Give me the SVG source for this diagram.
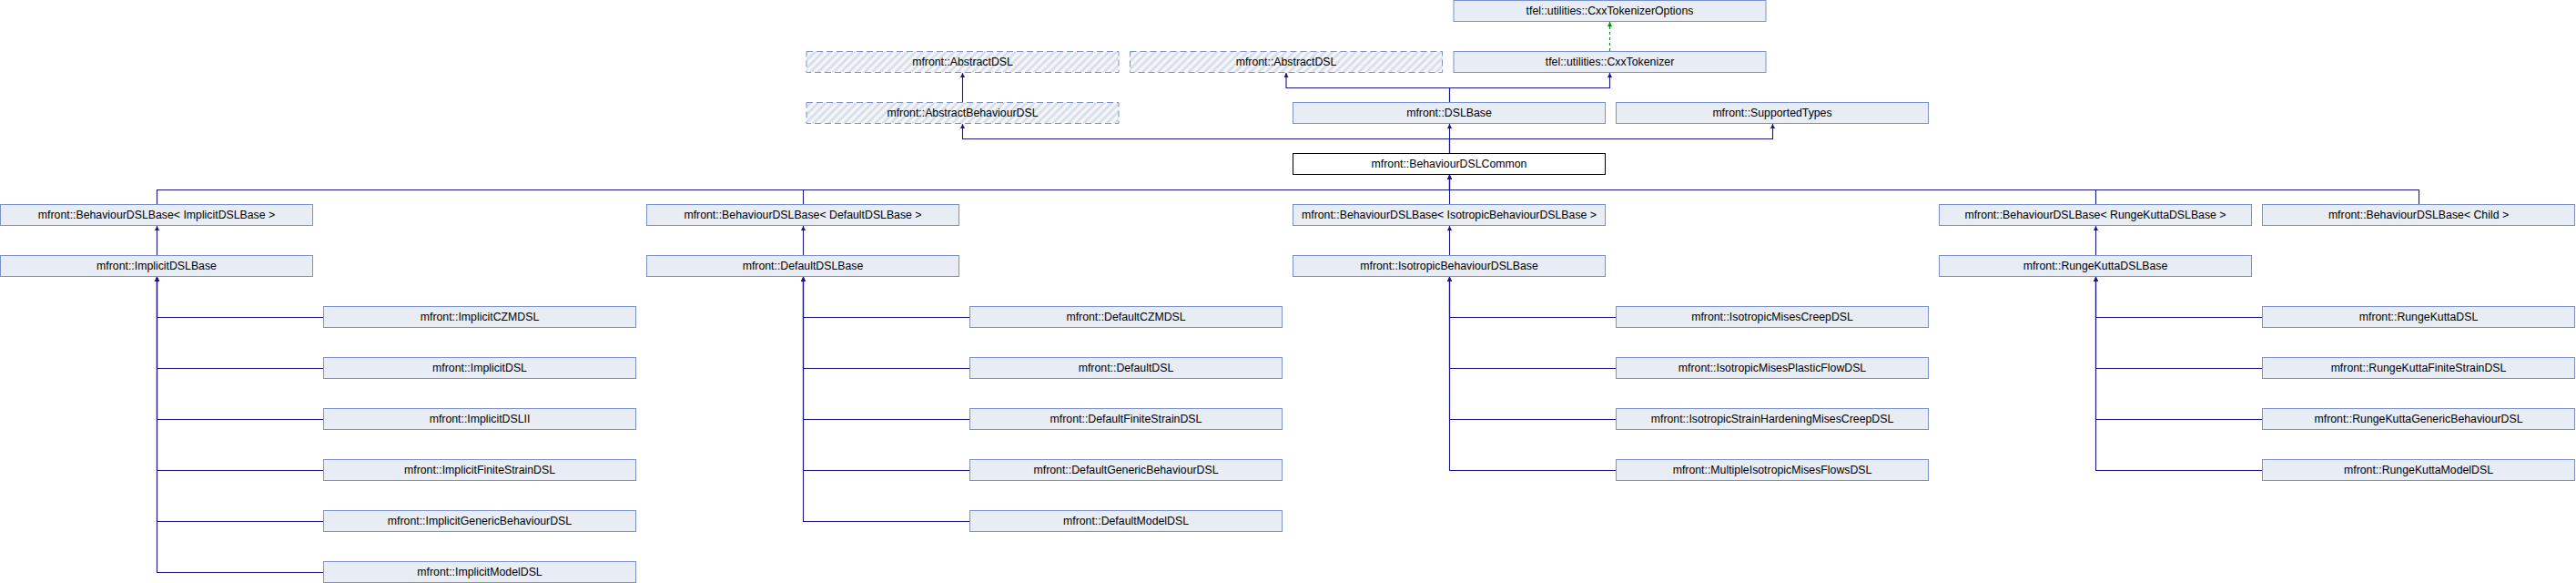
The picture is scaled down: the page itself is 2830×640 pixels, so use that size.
<svg xmlns="http://www.w3.org/2000/svg" width="2830" height="640" viewBox="0 0 2830 640">
<style>
.n{fill:#e8ecf5;stroke:#7b92c8;stroke-width:1}
.h{fill:url(#hatch);stroke:#7b92c8;stroke-width:1;stroke-dasharray:7,4}
.m{fill:#ffffff;stroke:#000000;stroke-width:1}
.t{font-family:"Liberation Sans",Arial,sans-serif;font-size:12.3px;fill:#000000;text-anchor:middle}
.e{fill:none;stroke:#191980;stroke-width:1.1;marker-end:url(#arr)}
.g{fill:none;stroke:#009000;stroke-width:1.1;stroke-dasharray:3,3;marker-end:url(#arrg)}
</style>
<defs>
<pattern id="hatch" patternUnits="userSpaceOnUse" width="6" height="6" patternTransform="rotate(45)">
<rect width="6" height="6" fill="#f4f6fa"/>
<line x1="1.5" y1="0" x2="1.5" y2="6" stroke="#d6dce8" stroke-width="2.5"/>
</pattern>
<marker id="arr" markerUnits="userSpaceOnUse" viewBox="0 0 10 10" refX="10" refY="5" markerWidth="7" markerHeight="5" orient="auto">
<path d="M0,0 L10,5 L0,10 z" fill="#191980"/>
</marker>
<marker id="arrg" markerUnits="userSpaceOnUse" viewBox="0 0 10 10" refX="10" refY="5" markerWidth="7" markerHeight="5" orient="auto">
<path d="M0,0 L10,5 L0,10 z" fill="#009000"/>
</marker>
</defs>
<rect width="2830" height="640" fill="#ffffff"/>

<g id="connectors">
<path class="g" d="M1768.5,56 V24"/>
<path class="e" d="M1057.5,112 V80"/>
<path class="e" d="M1592.5,112 V96.5 H1413 V80"/>
<path class="e" d="M1592.5,112 V96.5 H1768.5 V80"/>
<path class="e" d="M1592.5,168 V152.5 H1057.5 V136"/>
<path class="e" d="M1592.5,168 V136"/>
<path class="e" d="M1592.5,168 V152.5 H1947.5 V136"/>
<path class="e" d="M172.5,224 V208.5 H1592.5 V192"/>
<path class="e" d="M882.5,224 V208.5 H1592.5 V192"/>
<path class="e" d="M1592.5,224 V192"/>
<path class="e" d="M2302.5,224 V208.5 H1592.5 V192"/>
<path class="e" d="M2657.5,224 V208.5 H1592.5 V192"/>
<path class="e" d="M172.5,280 V248"/>
<path class="e" d="M882.5,280 V248"/>
<path class="e" d="M1592.5,280 V248"/>
<path class="e" d="M2302.5,280 V248"/>
<path class="e" d="M355.5,348.5 H172.5 V304"/>
<path class="e" d="M355.5,404.5 H172.5 V304"/>
<path class="e" d="M355.5,460.5 H172.5 V304"/>
<path class="e" d="M355.5,516.5 H172.5 V304"/>
<path class="e" d="M355.5,572.5 H172.5 V304"/>
<path class="e" d="M355.5,628.5 H172.5 V304"/>
<path class="e" d="M1065.5,348.5 H882.5 V304"/>
<path class="e" d="M1065.5,404.5 H882.5 V304"/>
<path class="e" d="M1065.5,460.5 H882.5 V304"/>
<path class="e" d="M1065.5,516.5 H882.5 V304"/>
<path class="e" d="M1065.5,572.5 H882.5 V304"/>
<path class="e" d="M1775.5,348.5 H1592.5 V304"/>
<path class="e" d="M1775.5,404.5 H1592.5 V304"/>
<path class="e" d="M1775.5,460.5 H1592.5 V304"/>
<path class="e" d="M1775.5,516.5 H1592.5 V304"/>
<path class="e" d="M2485.5,348.5 H2302.5 V304"/>
<path class="e" d="M2485.5,404.5 H2302.5 V304"/>
<path class="e" d="M2485.5,460.5 H2302.5 V304"/>
<path class="e" d="M2485.5,516.5 H2302.5 V304"/>
</g>

<g id="CxxTokenizerOptions"><rect class="n" x="1597" y="0.5" width="343" height="23"/><text class="t" x="1768.5" y="16">tfel::utilities::CxxTokenizerOptions</text></g>
<g id="AbstractDSL_1"><rect class="h" x="886" y="56.5" width="343" height="23"/><text class="t" x="1057.5" y="72">mfront::AbstractDSL</text></g>
<g id="AbstractDSL_2"><rect class="h" x="1241.5" y="56.5" width="343" height="23"/><text class="t" x="1413" y="72">mfront::AbstractDSL</text></g>
<g id="CxxTokenizer"><rect class="n" x="1597" y="56.5" width="343" height="23"/><text class="t" x="1768.5" y="72">tfel::utilities::CxxTokenizer</text></g>
<g id="AbstractBehaviourDSL"><rect class="h" x="886" y="112.5" width="343" height="23"/><text class="t" x="1057.5" y="128">mfront::AbstractBehaviourDSL</text></g>
<g id="DSLBase"><rect class="n" x="1420.5" y="112.5" width="343" height="23"/><text class="t" x="1592" y="128">mfront::DSLBase</text></g>
<g id="SupportedTypes"><rect class="n" x="1775.5" y="112.5" width="343" height="23"/><text class="t" x="1947" y="128">mfront::SupportedTypes</text></g>
<g id="BehaviourDSLCommon"><rect class="m" x="1420.5" y="168.5" width="343" height="23"/><text class="t" x="1592" y="184">mfront::BehaviourDSLCommon</text></g>

<g id="BDSLBase_Implicit"><rect class="n" x="0.5" y="224.5" width="343" height="23"/><text class="t" x="172" y="240">mfront::BehaviourDSLBase&lt; ImplicitDSLBase &gt;</text></g>
<g id="BDSLBase_Default"><rect class="n" x="710.5" y="224.5" width="343" height="23"/><text class="t" x="882" y="240">mfront::BehaviourDSLBase&lt; DefaultDSLBase &gt;</text></g>
<g id="BDSLBase_Isotropic"><rect class="n" x="1420.5" y="224.5" width="343" height="23"/><text class="t" x="1592" y="240">mfront::BehaviourDSLBase&lt; IsotropicBehaviourDSLBase &gt;</text></g>
<g id="BDSLBase_RungeKutta"><rect class="n" x="2130.5" y="224.5" width="343" height="23"/><text class="t" x="2302" y="240">mfront::BehaviourDSLBase&lt; RungeKuttaDSLBase &gt;</text></g>
<g id="BDSLBase_Child"><rect class="n" x="2485.5" y="224.5" width="343" height="23"/><text class="t" x="2657" y="240">mfront::BehaviourDSLBase&lt; Child &gt;</text></g>

<g id="ImplicitDSLBase"><rect class="n" x="0.5" y="280.5" width="343" height="23"/><text class="t" x="172" y="296">mfront::ImplicitDSLBase</text></g>
<g id="DefaultDSLBase"><rect class="n" x="710.5" y="280.5" width="343" height="23"/><text class="t" x="882" y="296">mfront::DefaultDSLBase</text></g>
<g id="IsotropicBehaviourDSLBase"><rect class="n" x="1420.5" y="280.5" width="343" height="23"/><text class="t" x="1592" y="296">mfront::IsotropicBehaviourDSLBase</text></g>
<g id="RungeKuttaDSLBase"><rect class="n" x="2130.5" y="280.5" width="343" height="23"/><text class="t" x="2302" y="296">mfront::RungeKuttaDSLBase</text></g>

<g id="ImplicitCZMDSL"><rect class="n" x="355.5" y="336.5" width="343" height="23"/><text class="t" x="527" y="352">mfront::ImplicitCZMDSL</text></g>
<g id="ImplicitDSL"><rect class="n" x="355.5" y="392.5" width="343" height="23"/><text class="t" x="527" y="408">mfront::ImplicitDSL</text></g>
<g id="ImplicitDSLII"><rect class="n" x="355.5" y="448.5" width="343" height="23"/><text class="t" x="527" y="464">mfront::ImplicitDSLII</text></g>
<g id="ImplicitFiniteStrainDSL"><rect class="n" x="355.5" y="504.5" width="343" height="23"/><text class="t" x="527" y="520">mfront::ImplicitFiniteStrainDSL</text></g>
<g id="ImplicitGenericBehaviourDSL"><rect class="n" x="355.5" y="560.5" width="343" height="23"/><text class="t" x="527" y="576">mfront::ImplicitGenericBehaviourDSL</text></g>
<g id="ImplicitModelDSL"><rect class="n" x="355.5" y="616.5" width="343" height="23"/><text class="t" x="527" y="632">mfront::ImplicitModelDSL</text></g>

<g id="DefaultCZMDSL"><rect class="n" x="1065.5" y="336.5" width="343" height="23"/><text class="t" x="1237" y="352">mfront::DefaultCZMDSL</text></g>
<g id="DefaultDSL"><rect class="n" x="1065.5" y="392.5" width="343" height="23"/><text class="t" x="1237" y="408">mfront::DefaultDSL</text></g>
<g id="DefaultFiniteStrainDSL"><rect class="n" x="1065.5" y="448.5" width="343" height="23"/><text class="t" x="1237" y="464">mfront::DefaultFiniteStrainDSL</text></g>
<g id="DefaultGenericBehaviourDSL"><rect class="n" x="1065.5" y="504.5" width="343" height="23"/><text class="t" x="1237" y="520">mfront::DefaultGenericBehaviourDSL</text></g>
<g id="DefaultModelDSL"><rect class="n" x="1065.5" y="560.5" width="343" height="23"/><text class="t" x="1237" y="576">mfront::DefaultModelDSL</text></g>

<g id="IsotropicMisesCreepDSL"><rect class="n" x="1775.5" y="336.5" width="343" height="23"/><text class="t" x="1947" y="352">mfront::IsotropicMisesCreepDSL</text></g>
<g id="IsotropicMisesPlasticFlowDSL"><rect class="n" x="1775.5" y="392.5" width="343" height="23"/><text class="t" x="1947" y="408">mfront::IsotropicMisesPlasticFlowDSL</text></g>
<g id="IsotropicStrainHardeningMisesCreepDSL"><rect class="n" x="1775.5" y="448.5" width="343" height="23"/><text class="t" x="1947" y="464">mfront::IsotropicStrainHardeningMisesCreepDSL</text></g>
<g id="MultipleIsotropicMisesFlowsDSL"><rect class="n" x="1775.5" y="504.5" width="343" height="23"/><text class="t" x="1947" y="520">mfront::MultipleIsotropicMisesFlowsDSL</text></g>

<g id="RungeKuttaDSL"><rect class="n" x="2485.5" y="336.5" width="343" height="23"/><text class="t" x="2657" y="352">mfront::RungeKuttaDSL</text></g>
<g id="RungeKuttaFiniteStrainDSL"><rect class="n" x="2485.5" y="392.5" width="343" height="23"/><text class="t" x="2657" y="408">mfront::RungeKuttaFiniteStrainDSL</text></g>
<g id="RungeKuttaGenericBehaviourDSL"><rect class="n" x="2485.5" y="448.5" width="343" height="23"/><text class="t" x="2657" y="464">mfront::RungeKuttaGenericBehaviourDSL</text></g>
<g id="RungeKuttaModelDSL"><rect class="n" x="2485.5" y="504.5" width="343" height="23"/><text class="t" x="2657" y="520">mfront::RungeKuttaModelDSL</text></g>
</svg>
